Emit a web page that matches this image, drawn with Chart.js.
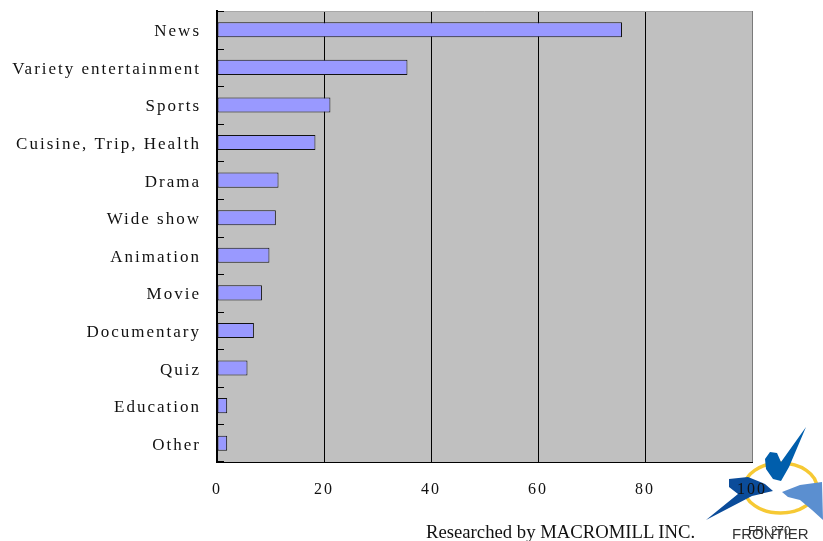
<!DOCTYPE html>
<html>
<head>
<meta charset="utf-8">
<script src="https://cdn.jsdelivr.net/npm/chart.js@4/dist/chart.umd.min.js"></script>
<style>
  html, body { margin: 0; padding: 0; background: #fff; }
  #wrap { position: relative; width: 823px; height: 541px; overflow: hidden; }
  #logo { position: absolute; left: 0; top: 0; z-index: 0; }
  #c { position: absolute; left: 0; top: 0; z-index: 1; }
  #footer { position: absolute; left: 426px; top: 521px; font-family: "Liberation Serif", serif; font-size: 18.7px; color: #111; z-index: 2; white-space: nowrap; }
  .lt { position: absolute; font-family: "Liberation Sans", sans-serif; color: #333; z-index: 2; white-space: nowrap; }
</style>
</head>
<body>
<div id="wrap">
  <svg id="logo" width="823" height="541" xmlns="http://www.w3.org/2000/svg">
    <ellipse cx="780.5" cy="488" rx="36.5" ry="25" fill="none" stroke="#F6C934" stroke-width="3.5"/>
    <polygon points="765,459 770,452 777,453 781,462 806,427 789,467 781,481 773,479 766,469" fill="#005EAC"/>
    <polygon points="729,479 748,477 765,484 773,491 752,496 706,520 738,494 729,487" fill="#0B4C9A"/>
    <polygon points="782,492 800,485 822,482 823,520 812,510 800,500 788,497" fill="#5B8FD0"/>
  </svg>
  <canvas id="c" width="823" height="541"></canvas>
  <div id="footer">Researched by MACROMILL INC.</div>
  <div class="lt" style="left:732px; top:525px; font-size:15px;">FRONTIER</div>
  <div class="lt" style="left:748px; top:524px; font-size:12px;">FRI 270</div>
</div>
<script>
const categories = ["News", "Variety entertainment", "Sports", "Cuisine, Trip, Health", "Drama", "Wide show", "Animation", "Movie", "Documentary", "Quiz", "Education", "Other"];
const values = [75.7, 35.6, 21.2, 18.4, 11.5, 11.0, 9.8, 8.4, 6.9, 5.7, 1.9, 1.9];
const xTicks = [0, 20, 40, 60, 80, 100];

const SP = '2px';
const spacingPlugin = {
  id: 'spacing',
  beforeInit(chart) { chart.ctx.letterSpacing = SP; },
  beforeLayout(chart) { chart.ctx.letterSpacing = SP; },
  beforeDraw(chart) { chart.ctx.letterSpacing = SP; }
};

const bgPlugin = {
  id: 'plotBg',
  beforeDraw(chart) {
    const { ctx, chartArea: a } = chart;
    ctx.save();
    ctx.fillStyle = '#C0C0C0';
    ctx.fillRect(a.left, a.top, a.right - a.left, a.bottom - a.top);
    ctx.restore();
  },
  afterDraw(chart) {
    const { ctx, chartArea: a } = chart;
    const y = chart.scales.y;
    ctx.save();
    ctx.strokeStyle = '#A8A8A8';
    ctx.lineWidth = 1;
    ctx.beginPath();
    ctx.moveTo(a.left, a.top + 0.5);
    ctx.lineTo(a.right, a.top + 0.5);
    ctx.stroke();
    ctx.strokeStyle = '#000';
    ctx.beginPath();
    for (let i = 0; i <= categories.length; i++) {
      let py;
      if (i === 0) py = a.top;
      else if (i === categories.length) py = a.bottom - 1;
      else py = (y.getPixelForValue(i - 1) + y.getPixelForValue(i)) / 2;
      py = Math.round(py) + 0.5;
      ctx.moveTo(a.left, py);
      ctx.lineTo(a.left + 7, py);
    }
    ctx.stroke();
    ctx.restore();
  }
};

new Chart(document.getElementById('c'), {
  type: 'bar',
  data: {
    labels: categories,
    datasets: [{
      data: values,
      backgroundColor: '#9999FF',
      borderColor: '#111',
      borderWidth: 1,
      borderSkipped: false,
      barPercentage: 0.4,
      categoryPercentage: 1.0
    }]
  },
  options: {
    indexAxis: 'y',
    responsive: false,
    animation: false,
    events: [],
    layout: { padding: { left: 0, right: 71, top: 11, bottom: 0 } },
    plugins: { legend: { display: false }, tooltip: { enabled: false }, title: { display: false } },
    scales: {
      x: {
        min: 0, max: 100,
        afterBuildTicks(scale) { scale.ticks = xTicks.map(v => ({ value: v })); },
        afterFit(scale) { scale.height = 79; scale.paddingRight = 0; scale.paddingLeft = 0; },
        grid: {
          color: (c) => (c.tick && c.tick.value === 100) ? '#7A7A7A' : '#000',
          lineWidth: 1,
          drawTicks: false
        },
        border: { color: '#000', width: 1 },
        ticks: {
          color: '#111',
          padding: 18,
          font: { family: '"Liberation Serif", serif', size: 16 },
          maxRotation: 0
        }
      },
      y: {
        afterFit(scale) { scale.width = 217; scale.paddingTop = 0; scale.paddingBottom = 0; },
        grid: { display: false, drawTicks: false },
        border: { color: '#000', width: 2 },
        ticks: {
          color: '#111',
          padding: 16,
          labelOffset: 2,
          font: { family: '"Liberation Serif", serif', size: 17 }
        }
      }
    }
  },
  plugins: [spacingPlugin, bgPlugin]
});
</script>
</body>
</html>
